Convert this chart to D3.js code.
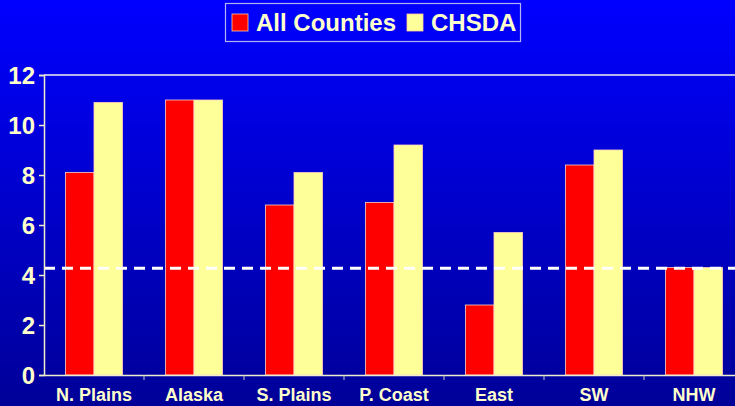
<!DOCTYPE html>
<html>
<head>
<meta charset="utf-8">
<script src="https://cdn.jsdelivr.net/npm/d3@7"></script>
<style>
  body { margin: 0; padding: 0; }
  svg { display: block; }
</style>
</head>
<body>
<svg width="735" height="406"></svg>
<script>
// data
var regions = ["N. Plains", "Alaska", "S. Plains", "P. Coast", "East", "SW", "NHW"];
var allCounties = [8.1, 11.0, 6.8, 6.9, 2.8, 8.4, 4.3];
var chsda = [10.9, 11.0, 8.1, 9.2, 5.7, 9.0, 4.3];
var yTicks = [0, 2, 4, 6, 8, 10, 12];
var refLine = 4.27;
var seriesNames = ["All Counties", "CHSDA"];
var seriesColors = ["#ff0000", "#ffff99"];

(function() {
var svg = d3.select("svg");
var W = 735, H = 406;
var mLeft = 44, mTop = 75, mBottom = 375, mRight = 744;

var defs = svg.append("defs");
var grad = defs.append("linearGradient").attr("id", "bg")
  .attr("x1", 0).attr("y1", 0).attr("x2", 0).attr("y2", 1);
grad.append("stop").attr("offset", "0%").attr("stop-color", "#0000ff");
grad.append("stop").attr("offset", "100%").attr("stop-color", "#000098");

svg.append("rect").attr("width", W).attr("height", H).attr("fill", "url(#bg)");

var x = d3.scaleBand().domain(regions).range([mLeft, mRight]).paddingInner(0).paddingOuter(0);
var y = d3.scaleLinear().domain([0, 12]).range([mBottom, mTop]);
var groupW = 57;

// top frame line
svg.append("line")
  .attr("x1", mLeft).attr("x2", W).attr("y1", y(12)).attr("y2", y(12))
  .attr("stroke", "#b4b4f0").attr("stroke-width", 2);

// bars
var rows = regions.map(function(r, i) { return {r: r, v: [allCounties[i], chsda[i]]}; });
var g = svg.append("g").selectAll("g").data(rows).enter().append("g");
g.selectAll("rect")
  .data(function(d) { return d.v.map(function(v, k) { return {r: d.r, v: v, k: k}; }); })
  .enter().append("rect")
  .attr("x", function(d) { return x(d.r) + x.bandwidth() / 2 - groupW / 2 + d.k * groupW / 2; })
  .attr("width", groupW / 2)
  .attr("y", function(d) { return y(d.v); })
  .attr("height", function(d) { return mBottom - y(d.v); })
  .attr("fill", function(d) { return seriesColors[d.k]; })
  .attr("stroke", "#ffd0c0").attr("stroke-width", 0.8);

// dashed reference line
svg.append("line")
  .attr("x1", mLeft).attr("x2", W).attr("y1", y(refLine)).attr("y2", y(refLine))
  .attr("stroke", "#ffffff").attr("stroke-width", 3).attr("stroke-dasharray", "11,7");

// y axis
var yAxis = svg.append("g").attr("transform", "translate(" + mLeft + ",0)")
  .call(d3.axisLeft(y).tickValues(yTicks).tickSize(5).tickPadding(4));
yAxis.select(".domain").attr("stroke", "#eeeecc").attr("stroke-width", 1.5);
yAxis.selectAll(".tick line").attr("stroke", "#eeeecc").attr("stroke-width", 1.5);
yAxis.selectAll("text")
  .attr("fill", "#ffffcc").style("font-family", "'Liberation Sans', Arial, sans-serif")
  .style("font-weight", "bold").style("font-size", "24px").attr("dy", "0.36em");

// x axis
var xAxis = svg.append("g").attr("transform", "translate(0," + mBottom + ")")
  .call(d3.axisBottom(x).tickSize(0).tickPadding(13));
xAxis.select(".domain").attr("stroke", "#eeeecc").attr("stroke-width", 1.5);
xAxis.selectAll("text")
  .attr("fill", "#ffffcc").style("font-family", "'Liberation Sans', Arial, sans-serif")
  .style("font-weight", "bold").style("font-size", "18px");
xAxis.selectAll(".sep").data(regions.slice(1)).enter().append("line")
  .attr("x1", function(d) { return x(d); }).attr("x2", function(d) { return x(d); })
  .attr("y1", 0).attr("y2", 5).attr("stroke", "#cccccc").attr("stroke-width", 1);

// legend
var lg = svg.append("g");
lg.append("rect").attr("x", 225.5).attr("y", 3.5).attr("width", 295).attr("height", 38)
  .attr("fill", "none").attr("stroke", "#b4b4f0").attr("stroke-width", 1.2);
var lx = [232, 407];
seriesNames.forEach(function(n, i) {
  lg.append("rect").attr("x", lx[i]).attr("y", 14).attr("width", 16).attr("height", 17)
    .attr("fill", seriesColors[i]).attr("stroke", "#ffcc99").attr("stroke-width", 0.8);
  lg.append("text").attr("x", lx[i] + 24).attr("y", 31)
    .attr("fill", "#ffffcc").style("font-family", "'Liberation Sans', Arial, sans-serif")
    .style("font-weight", "bold").style("font-size", "24px").text(n);
});
})();
</script>
</body>
</html>
